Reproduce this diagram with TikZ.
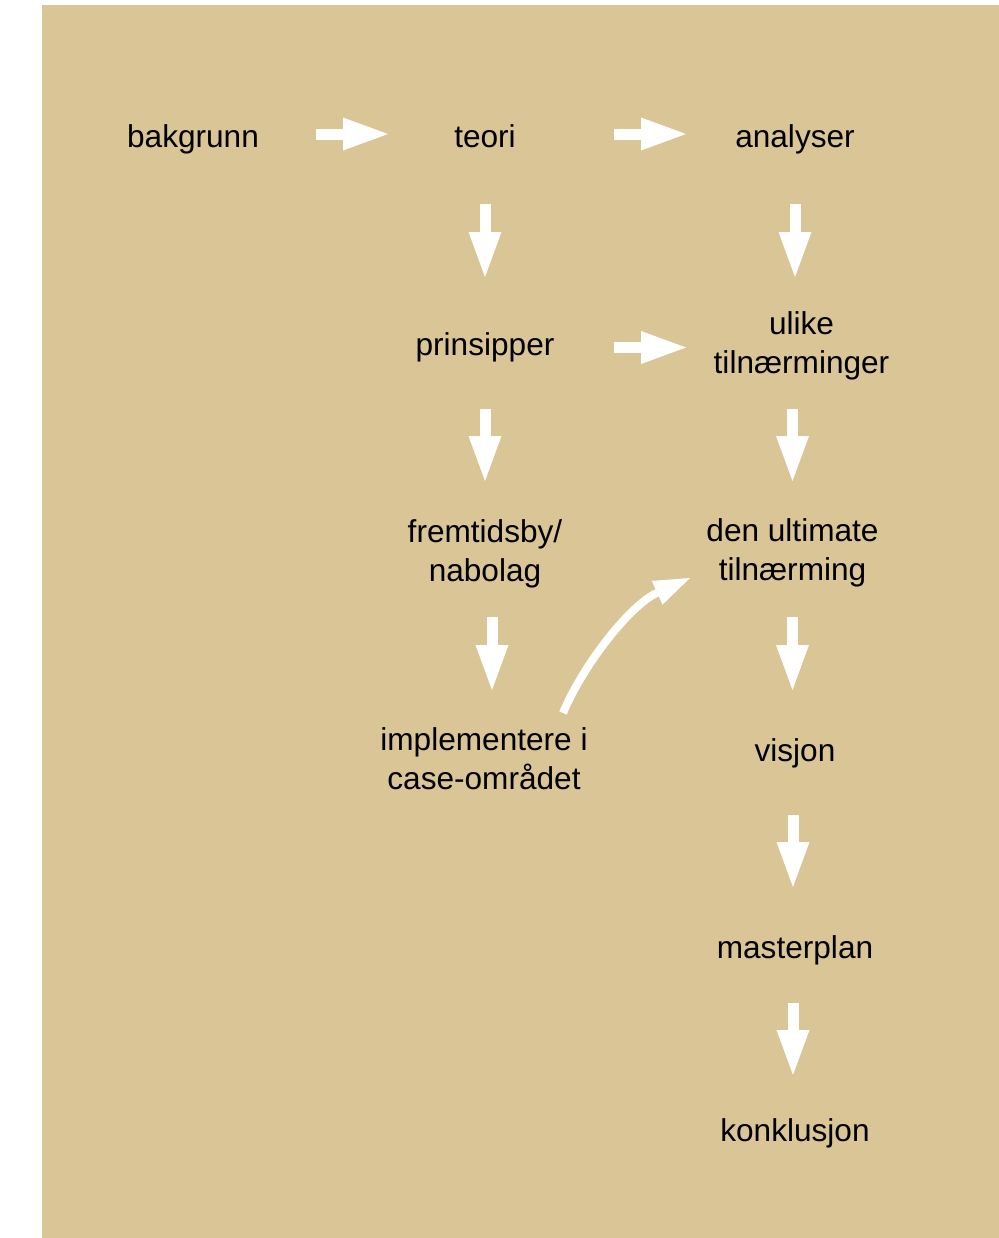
\documentclass[tikz,border=0pt]{standalone}
\usepackage{fontspec}
\setmainfont{Liberation Sans}
\usepackage{xcolor}
\usetikzlibrary{arrows.meta}
\definecolor{sand}{RGB}{217,197,149}

\begin{document}
\begin{tikzpicture}[x=0.5pt,y=-0.5pt,%
% common options for the texts:
word/.style = {align=center, anchor=center, inner sep=0,
            font=\fontsize{15.8}{19.5}\selectfont,
            execute at begin node=\strut, execute at end node=\strut},
% common options for the white block arrows:
blockarrow/.style = {draw=white, line width=5.5pt,
            -{Triangle[length=22.5pt, width=16.5pt, line width=0pt]}},
curvearrow/.style = {draw=white, line width=4pt,
            -{Triangle[length=18pt, width=13pt, line width=0pt]}}]
\useasboundingbox (0,0) rectangle (999,1238);
\fill[sand] (41.5,5) rectangle (999,1238);
\node[word] (bakgrunn) at (193,139.5) {bakgrunn};
\node[word] (teori) at (485,139.5) {teori};
\node[word] (analyser) at (795,139.5) {analyser};
\node[word] (prinsipper) at (485,347.5) {prinsipper};
\node[word] (ulike) at (801.5,348.5) {ulike\\tilnærminger};
\node[word] (fremtid) at (485,556.2) {fremtidsby/\\nabolag};
\node[word] (ultimate) at (792.5,555.5) {den ultimate\\tilnærming};
\node[word] (implement) at (484,764.5) {implementere i\\case-området};
\node[word] (visjon) at (795,754) {visjon};
\node[word] (masterplan) at (795,951) {masterplan};
\node[word] (konklusjon) at (795,1134) {konklusjon};
\draw[blockarrow, shorten <=61.5pt, shorten >=48.5pt] ([yshift=2.75pt]bakgrunn.center) to ([yshift=2.75pt]teori.center);
\draw[blockarrow, shorten <=64.5pt, shorten >=54.5pt] ([yshift=2.75pt]teori.center) to ([yshift=2.75pt]analyser.center);
\draw[blockarrow, shorten <=64.5pt, shorten >=57.75pt] (prinsipper.center) to (prinsipper.center -| ulike.center);
\draw[blockarrow, shorten <=32.25pt, shorten >=35.25pt] (teori.center) to (teori.center |- prinsipper.center);
\draw[blockarrow, shorten <=32.25pt, shorten >=35.75pt] (analyser.center) to (analyser.center |- ulike.center);
\draw[blockarrow, shorten <=30.75pt, shorten >=37.6pt] (prinsipper.center) to (prinsipper.center |- fremtid.center);
\draw[blockarrow, shorten <=30.25pt, shorten >=37.25pt] (ultimate.center |- ulike.center) to (ultimate.center);
\draw[blockarrow, shorten <=30.4pt, shorten >=37.25pt] ([xshift=3.5pt]fremtid.center) to ([xshift=3.5pt]fremtid.center |- implement.center);
\draw[blockarrow, shorten <=30.75pt, shorten >=32pt] (ultimate.center) to (ultimate.center |- visjon.center);
\draw[blockarrow, shorten <=30.5pt, shorten >=32pt] ([xshift=-1pt]visjon.center) to ([xshift=-1pt]masterplan.center);
\draw[blockarrow, shorten <=26pt, shorten >=29.5pt] ([xshift=-1pt]masterplan.center) to ([xshift=-1pt]konklusjon.center);
% curved connector
\draw[curvearrow] ([shift={(79,-51.5)}]implement.center) .. controls +(20,-48) and +(-60,27) .. ([shift={(-102.5,22.5)}]ultimate.center);
\end{tikzpicture}
\end{document}
